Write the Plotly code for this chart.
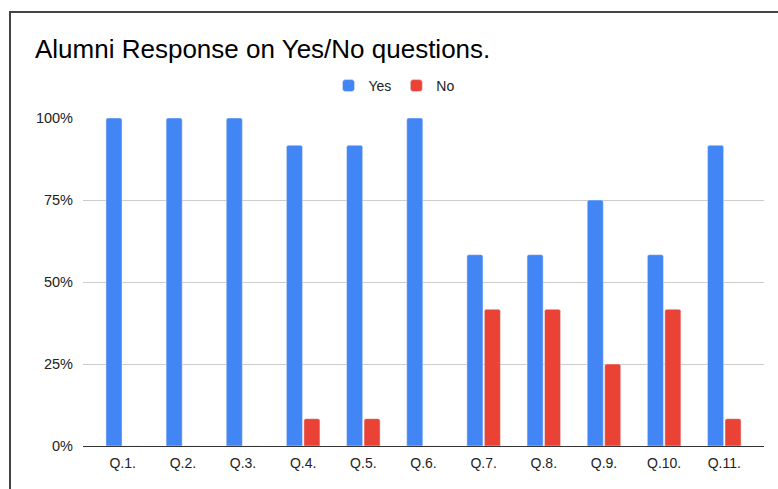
import plotly.graph_objects as go

questions = ["Q.1.", "Q.2.", "Q.3.", "Q.4.", "Q.5.", "Q.6.", "Q.7.", "Q.8.", "Q.9.", "Q.10.", "Q.11."]
yes_share = [1.0, 1.0, 1.0, 0.9167, 0.9167, 1.0, 0.5833, 0.5833, 0.75, 0.5833, 0.9167]
no_share = [0.0, 0.0, 0.0, 0.0833, 0.0833, 0.0, 0.4167, 0.4167, 0.25, 0.4167, 0.0833]
y_ticks = [0, 0.25, 0.5, 0.75, 1.0]
y_tick_labels = ["0%", "25%", "50%", "75%", "100%"]

W, H = 778, 489
ML, MR, MT, MB = 83, 14, 118, 43
PW = W - ML - MR
PH = H - MT - MB

def px_x(p):
    return (p - ML) / PW

def px_y(p):
    return (H - MB - p) / PH

FONT = "Liberation Sans, Arial, sans-serif"

fig = go.Figure()
fig.add_trace(go.Bar(name="Yes", x=questions, y=yes_share, marker_color="#4285F4"))
fig.add_trace(go.Bar(name="No", x=questions, y=no_share, marker_color="#EA4335"))

fig.update_layout(
    width=W, height=H,
    margin=dict(l=ML, r=MR, t=MT, b=MB, autoexpand=False),
    paper_bgcolor="white", plot_bgcolor="white",
    barmode="group", bargap=0.42, bargroupgap=0.08, barcornerradius=2,
    font=dict(family=FONT, size=14, color="#222222"),
    title=dict(text="Alumni Response on Yes/No questions.", x=35 / W, xref="container", xanchor="left",
               y=1 - 49 / H, yref="container", yanchor="middle",
               font=dict(family=FONT, size=26, color="#000000")),
    legend=dict(orientation="h", x=px_x(394), xanchor="center", y=px_y(86), yanchor="middle",
                font=dict(size=14, color="#222222"), itemwidth=30, traceorder="normal"),
    xaxis=dict(range=[-0.66, 10.66], showgrid=False, showline=True, linecolor="#333333", linewidth=1,
               ticks="", ticklabelstandoff=4, tickfont=dict(size=14, color="#222222"), fixedrange=True),
    yaxis=dict(range=[0, 1.0], tickvals=y_ticks, ticktext=y_tick_labels, showgrid=True, gridcolor="#cccccc",
               gridwidth=1, zeroline=False, showline=False, ticks="", ticklabelstandoff=9,
               tickfont=dict(size=14.5, color="#222222")),
    showlegend=True,
)

# screenshot frame (left and top border) drawn as a page overlay
frame_js = (
    "document.body.style.margin='0';document.body.style.overflow='hidden';"
    "var f=document.createElement('div');"
    "f.style.cssText='position:absolute;left:9px;top:11px;width:2000px;height:2000px;"
    "border-left:2px solid #444;border-top:2px solid #444;pointer-events:none;z-index:10;';"
    "document.body.appendChild(f);"
)

fig.write_html("out.html", config={"displayModeBar": False}, post_script=frame_js)
